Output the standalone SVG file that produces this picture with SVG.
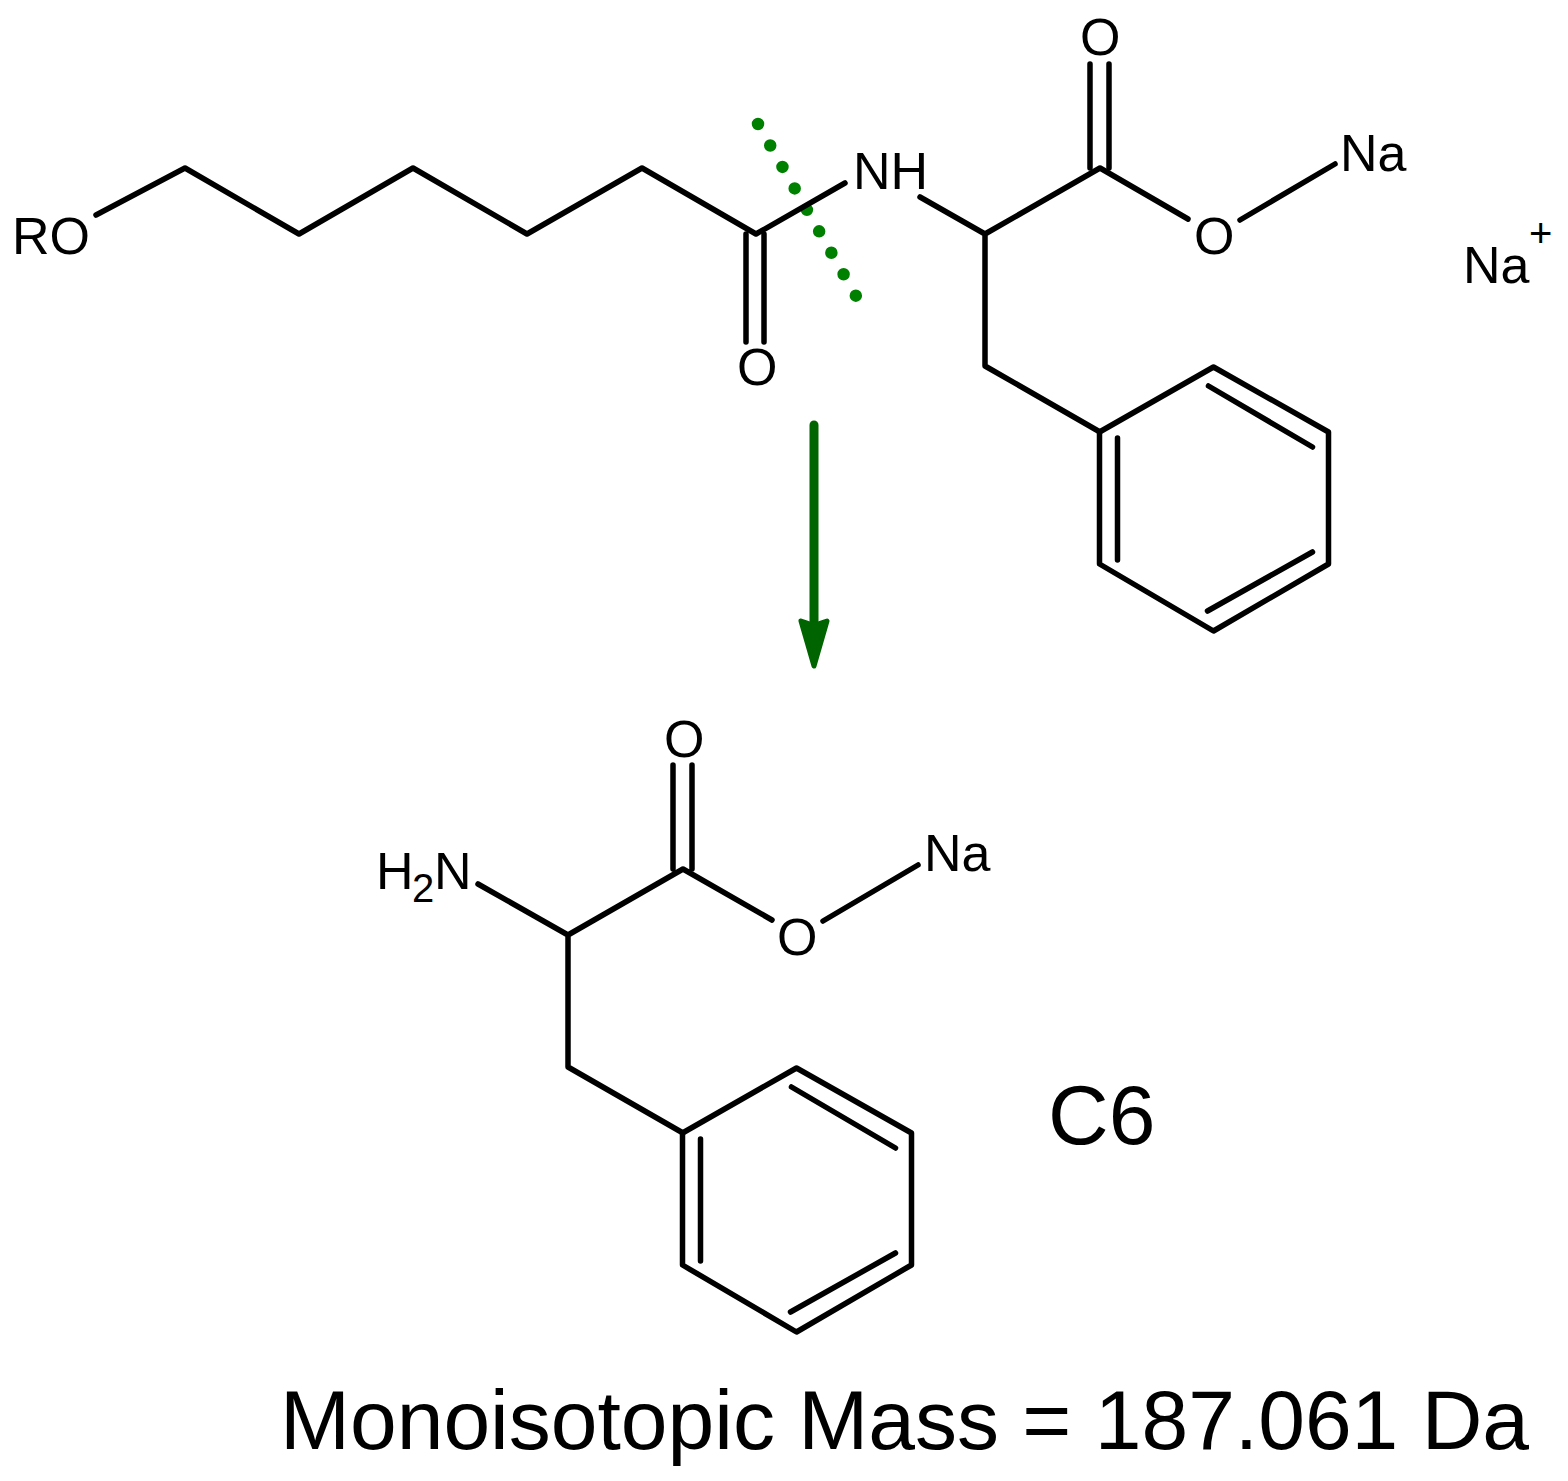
<svg xmlns="http://www.w3.org/2000/svg" width="1568" height="1481" viewBox="0 0 1568 1481">
<style>
text{font-family:"Liberation Sans",Arial,sans-serif;fill:#000}
.a{font-size:52px}
.s{font-size:40px}
.l{font-size:84px}
.b{fill:none;stroke:#000;stroke-width:5.5;stroke-linecap:round;stroke-linejoin:round}
</style>
<defs>
<g id="ring" class="b">
<path d="M0 0L114 -65L229 0V132L114 199L0 132Z"/>
<path d="M18 6V128M109 -46L213 15M108 179L213 120"/>
</g>
</defs>
<rect width="1568" height="1481" fill="#fff"/>
<g id="connectors">
<path d="M758 124L856 296" fill="none" stroke="#008000" stroke-width="12.5" stroke-linecap="round" stroke-dasharray="0 24.7"/>
<path class="b" d="M96 215L185 168L299 234L413 168L527 234L642 168L756 234L845 183M920 197L985 234L1100 168L1188 219M1240 220L1335 164M985 234V366L1100 432"/>
<path class="b" d="M746 234V342M764 234V342M1090 64V168M1109 64V168"/>
<path class="b" d="M478 884L568 935L683 869L772 920M823 921L918 865M568 935V1067L683 1133M673 765V869M692 765V869"/>
<path d="M814 425V625" fill="none" stroke="#006400" stroke-width="9" stroke-linecap="round"/>
<path d="M801 621L810 624H818L827 621L814 666Z" fill="#006400" stroke="#006400" stroke-width="5" stroke-linejoin="round"/>
</g>
<g id="ring1"><use href="#ring" x="1099.5" y="432"/></g>
<g id="ring2"><use href="#ring" x="682.5" y="1133"/></g>
<g id="labels">
<text class="a" x="12" y="254">RO</text>
<text class="a" x="853" y="189">NH</text>
<text class="a" x="737" y="385">O</text>
<text class="a" x="1080" y="55">O</text>
<text class="a" x="1194" y="254">O</text>
<text class="a" x="1340" y="171">Na</text>
<text class="a" x="1463" y="283">Na</text>
<text class="s" x="1529" y="247">+</text>
<text class="a" x="664" y="757">O</text>
<text class="a" x="777" y="955">O</text>
<text class="a" x="924" y="871">Na</text>
<text class="a" x="376" y="889">H</text>
<text class="s" x="412" y="902">2</text>
<text class="a" x="434" y="889">N</text>
<text class="l" x="1048" y="1144">C6</text>
<text class="l" x="280" y="1449">Monoisotopic Mass = 187.061 Da</text>
</g>
</svg>
